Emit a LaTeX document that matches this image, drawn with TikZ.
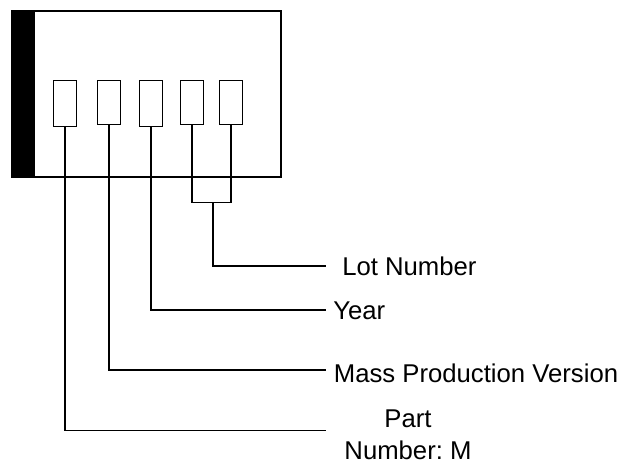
\documentclass[tikz,border=0pt]{standalone}
\usepackage{fontspec}
\setmainfont{Liberation Sans}
\frenchspacing
\begin{document}
\begin{tikzpicture}[x=1pt,y=-1pt,line width=1.1pt,
  pin/.style={draw,minimum width=23pt,inner sep=0pt,anchor=north},
  lbl/.style={inner sep=0pt,anchor=west,font=\fontsize{25.7}{32}\selectfont},
  wire/.style={draw,line width=1.1pt}]
\useasboundingbox (0,0) rectangle (621,463);
% chip body
\node[draw,minimum width=268pt,minimum height=165pt,inner sep=0pt,anchor=north west] (chip) at (12,11) {};
\fill (12,11) rectangle (35,176);
\draw (chip.north west) rectangle (chip.south east);
% marking boxes
\node[pin,minimum height=46pt] (b1) at (65,80) {};
\node[pin,minimum height=44pt] (b2) at (109,80) {};
\node[pin,minimum height=46pt] (b3) at (151,80) {};
\node[pin,minimum height=44pt] (b4) at (192,80) {};
\node[pin,minimum height=44pt] (b5) at (231,80) {};
% labels
\node[lbl] (lot) at (341.7,266) {Lot Number};
\node[lbl] (year) at (332.7,311) {Year};
\node[lbl] (mass) at (333.3,373) {Mass Production Version};
\node[inner sep=0pt,anchor=north,align=center,font=\fontsize{25.7}{32}\selectfont] (part) at (408,409) {Part\\Number: M};
% wire ends
\coordinate (eLot) at (326,266);
\coordinate (eYear) at (326,310);
\coordinate (eMass) at (326,370);
\coordinate (ePart) at (326,430.7);
\coordinate (br) at (213,202.3);
% connectors
\draw[wire] (b1.south) |- (ePart);
\draw[wire] (b2.south) |- (eMass);
\draw[wire] (b3.south) |- (eYear);
\draw[wire] (b4.south) |- (br) -| (b5.south);
\draw[wire] (br) |- (eLot);
\end{tikzpicture}
\end{document}
